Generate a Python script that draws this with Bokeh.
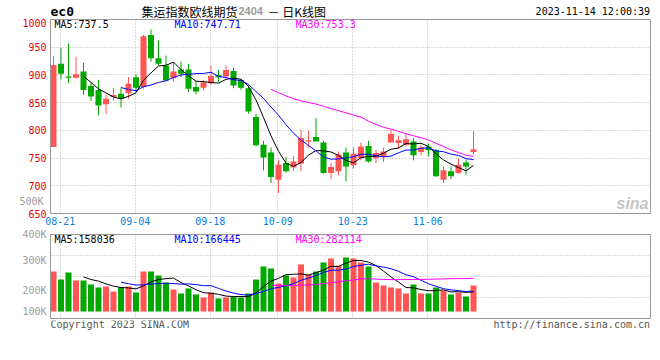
import pandas as pd
from bokeh.plotting import figure
from bokeh.layouts import column
from bokeh.models import ColumnDataSource, FixedTicker, Label, LinearAxis, Range1d
from bokeh.embed import file_html
from bokeh.resources import INLINE

# ---------------- data ----------------
dates = ["08-18",
         "08-21", "08-22", "08-23", "08-24", "08-25",
         "08-28", "08-29", "08-30", "08-31", "09-01",
         "09-04", "09-05", "09-06", "09-07", "09-08",
         "09-11", "09-12", "09-13", "09-14", "09-15",
         "09-18", "09-19", "09-20", "09-21", "09-22",
         "09-25", "09-26", "09-27", "09-28",
         "10-09", "10-10", "10-11", "10-12", "10-13",
         "10-16", "10-17", "10-18", "10-19", "10-20",
         "10-23", "10-24", "10-25", "10-26", "10-27",
         "10-30", "10-31", "11-01", "11-02", "11-03",
         "11-06", "11-07", "11-08", "11-09", "11-10",
         "11-13", "11-14"]
opens = [770, 920, 897, 895, 906, 880, 873, 847, 860, 866,
         867, 896, 878, 972, 930, 917, 894, 910, 910, 878,
         877, 885, 900, 897, 907, 891, 876, 824, 774, 760,
         711, 741, 733, 740, 780, 788, 778, 723, 726, 760,
         737, 750, 772, 750, 753, 778, 777, 774, 780, 761,
         771, 764, 711, 726, 723, 742, 761]
highs = [934, 949, 957, 933, 922, 887, 891, 864, 876, 877,
         896, 901, 972, 982, 962, 935, 923, 924, 920, 889,
         891, 917, 909, 917, 913, 893, 881, 830, 781, 769,
         746, 752, 754, 801, 799, 822, 781, 741, 762, 769,
         769, 778, 781, 765, 769, 801, 790, 795, 786, 774,
         776, 767, 735, 735, 749, 747, 799]
lows = [770, 892, 885, 893, 864, 853, 827, 830, 854, 841,
        857, 869, 875, 924, 918, 889, 888, 896, 869, 865,
        872, 882, 887, 894, 876, 873, 830, 771, 728, 705,
        687, 724, 727, 726, 769, 780, 722, 712, 719, 708,
        731, 746, 742, 741, 743, 778, 767, 771, 746, 755,
        753, 716, 705, 712, 722, 720, 757]
closes = [918, 902, 895, 901, 873, 861, 845, 857, 864, 857,
          884, 877, 970, 930, 920, 890, 906, 902, 875, 870,
          887, 898, 896, 909, 881, 877, 834, 773, 751, 716,
          738, 726, 744, 786, 782, 780, 723, 734, 756, 735,
          758, 771, 744, 759, 762, 794, 782, 784, 755, 769,
          764, 717, 728, 717, 738, 735, 766]
volumes = [328000, 262400, 319800, 254200, 254200, 221400, 196800, 205000, 164000, 196800,
           205000, 155800, 328000, 328000, 295200, 237800, 180400, 147600, 188600, 139400,
           114800, 155800, 106600, 114800, 123000, 114800, 147600, 262400, 369000, 352600,
           229600, 295200, 278800, 385400, 303400, 328000, 401800, 434600, 377200, 442800,
           434600, 401800, 369000, 237800, 213200, 196800, 188600, 147600, 221400, 147600,
           147600, 196800, 172200, 139400, 155800, 123000, 213200]
tick_labels = ["08-21", "09-04", "09-18", "10-09", "10-23", "11-06"]
price_ticks = [650, 700, 750, 800, 850, 900, 950, 1000]
price_ma_texts = ["MA5:737.5", "MA10:747.71", "MA30:753.3"]
vol_ma_texts = ["MA5:158036", "MA10:166445", "MA30:282114"]
vol_axis_labels = ["400K", "300K", "200K", "100K"]
stray_label = "500K"

# ---------------- styling / geometry ----------------
RED = "#ff5555"
GREEN = "#00a800"
MA_COLORS = ["#000000", "#0000ff", "#ff00ff"]
GRID = "#b4b4b4"
BORDER = "#999999"
AXGRAY = "#a0a0a0"
MONO = "DejaVu Sans Mono"
CJK = "Noto Sans CJK SC"
W = 652
X0, DX = 53.0, 7.5            # page px of first candle, px per trading day
FRAME_L, FRAME_R = 50.0, 650.0
BL = 3.5                      # Bokeh draws "alphabetic" labels ~3.5px low; compensate


def ax(px):
    return (px - X0) / DX


def ay_p(py):  # page y -> price (frame 19..213 <-> 1000..650)
    return 1000 - (py - BL - 19) * 350.0 / 194.0


VK = 8200.0


def ay_v(py):  # page y -> volume (baseline at 311)
    return (311 - py) * VK


def base_fig(**kw):
    f = figure(output_backend="svg", toolbar_location=None, **kw)
    f.background_fill_color = "white"
    f.border_fill_color = "white"
    return f


def text_strip(y0, y1):
    """Figure used only for free texts; its frame spans page x 50..650, coords = page px."""
    f = base_fig(width=W, height=int(y1 - y0), x_range=Range1d(FRAME_L, FRAME_R),
                 y_range=Range1d(y1 + BL, y0 + BL),
                 x_axis_location=None, y_axis_location=None,
                 min_border_left=int(FRAME_L), min_border_right=int(W - FRAME_R),
                 min_border_top=0, min_border_bottom=0)
    f.outline_line_color = None
    f.xgrid.visible = False
    f.ygrid.visible = False
    return f


def style_axis(a, color):
    a.major_label_text_color = color
    a.major_label_text_font = MONO
    a.major_label_text_font_size = "10px"
    a.major_tick_out = 0
    a.major_tick_in = 0
    a.minor_tick_out = 0
    a.minor_tick_in = 0


idx = list(range(len(dates)))
colors = [RED if c >= o else GREEN for o, c in zip(opens, closes)]
src = ColumnDataSource(dict(
    x=idx, open=opens, high=highs, low=lows, close=closes,
    top=[max(o, c) for o, c in zip(opens, closes)],
    bottom=[min(o, c) for o, c in zip(opens, closes)],
    color=colors, vol=volumes))

tick_pos = [dates.index(t) - 0.1 for t in tick_labels]
xr = Range1d(ax(FRAME_L), ax(FRAME_R))

# ---------------- header strip (page y 0..18) ----------------
h = text_strip(0, 18)
h.add_layout(Label(x=50, y=14.8, text="ec0", text_color="#000000", text_font=MONO,
                   text_font_size="13px", text_font_style="bold", text_baseline="alphabetic"))
h.add_layout(Label(x=141, y=14.0, text="集运指数欧线期货", text_color="#000000", text_font=CJK,
                   text_font_size="12px", text_baseline="alphabetic"))
h.add_layout(Label(x=238, y=13.5, text="2404", text_color="#999999", text_font="Liberation Sans",
                   text_font_size="11px", text_font_style="bold", text_baseline="alphabetic"))
h.add_layout(Label(x=267, y=14.0, text="－  日K线图", text_color="#000000", text_font=CJK,
                   text_font_size="12px", text_baseline="alphabetic"))
h.add_layout(Label(x=649.5, y=14.5, text="2023-11-14 12:00:39", text_color="#000000",
                   text_font=MONO, text_font_size="10px", text_align="right",
                   text_baseline="alphabetic"))

# ---------------- price panel (page y 18..228) ----------------
p = base_fig(width=W, height=210, x_range=xr, y_range=Range1d(650, 1000),
             x_axis_location="below", y_axis_location="left",
             min_border_left=50, min_border_right=2, min_border_top=1, min_border_bottom=15)
p.outline_line_color = BORDER

xa = p.xaxis[0]
xa.ticker = FixedTicker(ticks=tick_pos)
xa.major_label_overrides = {tp: lab for tp, lab in zip(tick_pos, tick_labels)}
style_axis(xa, "#0a80e0")
xa.axis_line_color = None
xa.major_label_standoff = 3

ya = p.yaxis[0]
ya.ticker = FixedTicker(ticks=price_ticks)
style_axis(ya, "#ee0000")
ya.axis_line_color = BORDER
ya.major_label_standoff = 4

# second (outer) left axis carrying only Sina's grey stray "500K" label,
# pulled back next to the frame with a negative standoff
stray_pos = [1000 - (200.5 - 19) * 350.0 / 194.0]
ya2 = LinearAxis(ticker=FixedTicker(ticks=stray_pos),
                 major_label_overrides={stray_pos[0]: stray_label})
style_axis(ya2, AXGRAY)
ya2.axis_line_color = None
ya2.major_label_standoff = -24
p.add_layout(ya2, "left")

for g in (p.xgrid[0], p.ygrid[0]):
    g.grid_line_color = GRID
    g.grid_line_dash = "1 2"
p.xgrid[0].ticker = FixedTicker(ticks=tick_pos)
p.ygrid[0].ticker = FixedTicker(ticks=price_ticks[1:-1])

p.segment(x0="x", y0="low", x1="x", y1="high", line_color="color", line_width=1, source=src)
p.vbar(x="x", width=0.8, top="top", bottom="bottom", fill_color="color",
       line_color=None, source=src)

cs = pd.Series(closes, dtype=float)
for n, col in zip((5, 10, 30), MA_COLORS):
    p.line(idx, cs.rolling(n).mean().tolist(), line_color=col, line_width=1)

for txt, px, col in zip(price_ma_texts, (54, 174, 295), MA_COLORS):
    p.add_layout(Label(x=ax(px), y=ay_p(27.8), text=txt, text_color=col,
                       text_font=MONO, text_font_size="10px", text_baseline="alphabetic"))

# sina watermark
p.add_layout(Label(x=ax(648), y=ay_p(206), text="sina", text_color="#c4c4c4",
                   text_font="Liberation Sans", text_font_size="16px",
                   text_font_style="bold italic", text_align="right",
                   text_baseline="alphabetic"))

# ---------------- volume panel (page y 228..320) ----------------
vr0, vr1 = ay_v(318), ay_v(234)
v = base_fig(width=W, height=92, x_range=xr, y_range=Range1d(vr0, vr1),
             x_axis_location=None, y_axis_location="left",
             min_border_left=50, min_border_right=2, min_border_top=6, min_border_bottom=2)
v.outline_line_color = BORDER

# Sina's volume scale labels sit at fixed places that do not follow the bars
vol_label_pos = [vr1, ay_v(260.3), ay_v(290.3), ay_v(311.3)]
yv = v.yaxis[0]
yv.ticker = FixedTicker(ticks=vol_label_pos)
yv.major_label_overrides = {tp: lab for tp, lab in zip(vol_label_pos, vol_axis_labels)}
style_axis(yv, AXGRAY)
yv.axis_line_color = BORDER
yv.major_label_standoff = 4

for g in (v.xgrid[0], v.ygrid[0]):
    g.grid_line_color = GRID
    g.grid_line_dash = "1 2"
v.xgrid[0].ticker = FixedTicker(ticks=tick_pos)
v.ygrid[0].ticker = FixedTicker(ticks=[vr0 + (vr1 - vr0) * j / 4 for j in (1, 2, 3)])

v.vbar(x="x", width=0.8, top="vol", bottom=0, fill_color="color", line_color=None, source=src)
vs = pd.Series(volumes, dtype=float)
for n, col in zip((5, 10, 30), MA_COLORS):
    v.line(idx, vs.rolling(n).mean().tolist(), line_color=col, line_width=1)

for txt, px, col in zip(vol_ma_texts, (54, 174, 295), MA_COLORS):
    v.add_layout(Label(x=ax(px), y=ay_v(242.4 - BL), text=txt, text_color=col,
                       text_font=MONO, text_font_size="10px", text_baseline="alphabetic"))

# ---------------- footer strip (page y 320..336) ----------------
ft = text_strip(320, 336)
ft.add_layout(Label(x=50, y=327.3, text="Copyright 2023 SINA.COM", text_color="#555555",
                    text_font=MONO, text_font_size="10px", text_baseline="alphabetic"))
ft.add_layout(Label(x=649.5, y=327.3, text="http://finance.sina.com.cn", text_color="#555555",
                    text_font=MONO, text_font_size="10px", text_align="right",
                    text_baseline="alphabetic"))

layout = column(h, p, v, ft)
open("out.html", "w").write(file_html(layout, INLINE))
